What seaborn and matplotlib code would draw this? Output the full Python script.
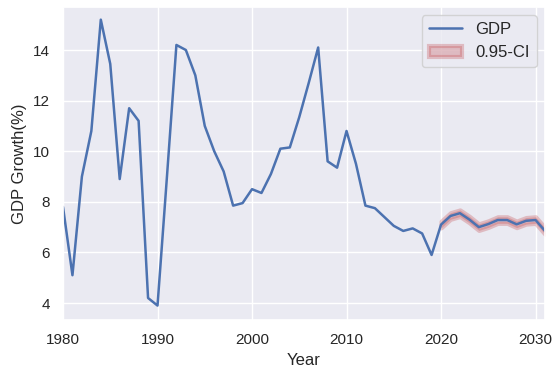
import numpy as np
import pandas as pd
import matplotlib
matplotlib.use("Agg")
import matplotlib.pyplot as plt
import seaborn as sns

# Historical annual GDP growth (%)
hist_years = list(range(1980, 2020))
hist_growth = [7.8, 5.1, 9.0, 10.8, 15.2, 13.45, 8.9, 11.7, 11.2, 4.2,
               3.9, 9.0, 14.2, 14.0, 13.0, 11.0, 10.0, 9.2, 7.85, 7.95,
               8.5, 8.35, 9.1, 10.1, 10.15, 11.35, 12.7, 14.1, 9.6, 9.35,
               10.8, 9.5, 7.85, 7.75, 7.4, 7.05, 6.85, 6.95, 6.75, 5.9]

# Forecast years with point forecast and 95% interval bounds
fc_years = list(range(2020, 2032))
fc_growth = [7.1, 7.44, 7.55, 7.3, 7.0, 7.12, 7.28, 7.28, 7.11, 7.25, 7.28, 6.85]
fc_lower = [6.97, 7.31, 7.42, 7.17, 6.87, 6.99, 7.15, 7.15, 6.98, 7.12, 7.15, 6.72]
fc_upper = [7.23, 7.57, 7.68, 7.43, 7.13, 7.25, 7.41, 7.41, 7.24, 7.38, 7.41, 6.98]

sns.set_theme(style="darkgrid", context="notebook")
plt.rcParams["font.family"] = ["Liberation Sans", "DejaVu Sans"]

df = pd.DataFrame({
    "Year": hist_years + fc_years,
    "GDP": hist_growth + fc_growth,
})

fig = plt.figure(figsize=(5.57, 3.74), dpi=100)
ax = fig.add_axes([63 / 557, 1 - 320 / 374, (545 - 63) / 557, (320 - 7) / 374])

sns.lineplot(data=df, x="Year", y="GDP", ax=ax, color="b", linewidth=1.8, label="GDP")
ax.fill_between(fc_years, fc_lower, fc_upper, color="r", alpha=0.3,
                linewidth=3, label="0.95-CI")

ax.set_xlim(1980, 2031)
ax.set_ylim(3.33, 15.7)
ax.set_xticks([1980, 1990, 2000, 2010, 2020, 2030])
ax.set_yticks([4, 6, 8, 10, 12, 14])
ax.set_xlabel("Year")
ax.set_ylabel("GDP Growth(%)")
ax.legend(loc="upper right", fontsize=12)

fig.savefig("out.png", dpi=100)
